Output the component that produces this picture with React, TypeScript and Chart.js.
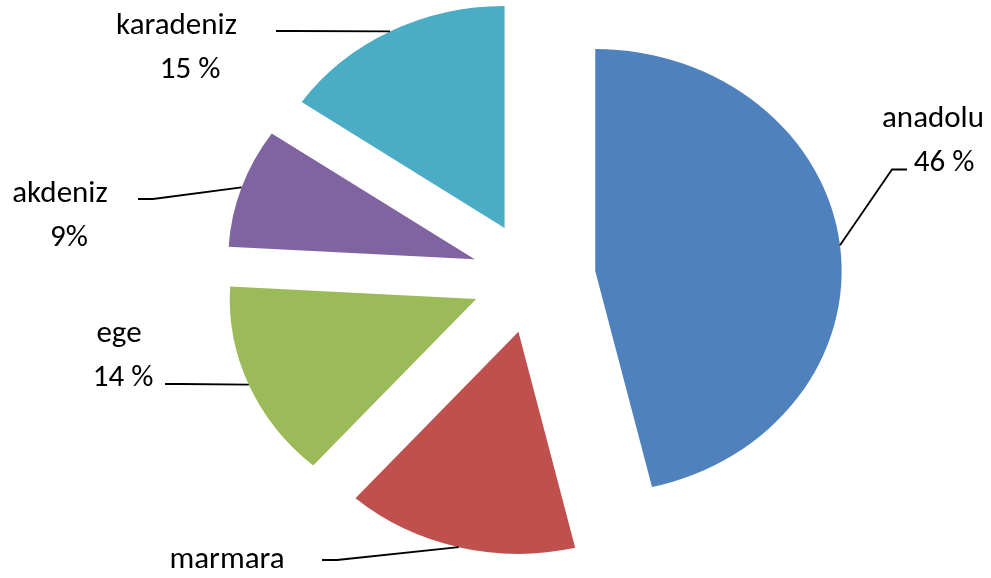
import React, { useEffect, useRef } from "react";
import { Chart, registerables } from "chart.js";

Chart.register(...registerables);

// ---- data ----
const CATEGORIES = ["anadolu", "marmara", "ege", "akdeniz", "karadeniz"];
const VALUES = [46.3, 15.2, 14.4, 8.7, 15.4];
const PCT_LABELS = ["46 %", "15 %", "14 %", "9%", "15 %"];
const COLORS = ["#4F81BD", "#C0504D", "#9BBB59", "#8064A2", "#4BACC6"];

// ---- layout / style ----
const W = 991;
const H = 578;
const RADIUS = 222;
const EXPLODE = 56;
const STRETCH_X = 1.11;
const FONT = "31px Calibri, Carlito, Lato, sans-serif";
const LINE_GAP = 44;
const LEADER_FLAT = 15;
// per label: name centre x, name baseline y, percent centre x, leader anchor x/y, side of the label
const LABEL_LAYOUT = [
  { nx: 933, ny: 127, px: 944, ax: 907, ay: 169.5, dir: -1 },
  { nx: 227, ny: 568, px: 227, ax: 322, ay: 560, dir: 1 },
  { nx: 119, ny: 342, px: 123, ax: 165, ay: 384, dir: 1 },
  { nx: 60, ny: 202, px: 69, ax: 138, ay: 199, dir: 1 },
  { nx: 176.5, ny: 34, px: 190, ax: 276, ay: 31, dir: 1 },
];

const explodePlugin = {
  id: "explodeStretch",
  beforeDatasetDraw(chart: any, args: any) {
    const ctx = chart.ctx;
    args.meta.data.forEach((arc: any) => {
      const { x, y, startAngle, endAngle } = arc.getProps(
        ["x", "y", "startAngle", "endAngle"],
        true
      );
      const mid = (startAngle + endAngle) / 2;
      ctx.save();
      ctx.translate(x, y);
      ctx.scale(STRETCH_X, 1);
      ctx.translate(-x, -y);
      ctx.translate(Math.cos(mid) * EXPLODE, Math.sin(mid) * EXPLODE);
      arc.draw(ctx);
      ctx.restore();
    });
    return false;
  },
};

const labelPlugin = {
  id: "pieLabels",
  afterDatasetsDraw(chart: any) {
    const ctx = chart.ctx;
    const meta = chart.getDatasetMeta(0);
    ctx.save();
    ctx.font = FONT;
    ctx.fillStyle = "#000";
    ctx.strokeStyle = "#000";
    ctx.lineWidth = 1.8;
    ctx.textAlign = "center";
    ctx.textBaseline = "alphabetic";
    meta.data.forEach((arc: any, i: number) => {
      const { x, y, startAngle, endAngle, outerRadius } = arc.getProps(
        ["x", "y", "startAngle", "endAngle", "outerRadius"],
        true
      );
      const mid = (startAngle + endAngle) / 2;
      const r = outerRadius + EXPLODE;
      const ex = x + STRETCH_X * Math.cos(mid) * r;
      const ey = y + Math.sin(mid) * r;
      const L = LABEL_LAYOUT[i];
      ctx.beginPath();
      ctx.moveTo(L.ax, L.ay);
      ctx.lineTo(L.ax + L.dir * LEADER_FLAT, L.ay);
      ctx.lineTo(ex, ey);
      ctx.stroke();
      ctx.fillText(CATEGORIES[i], L.nx, L.ny);
      ctx.fillText(PCT_LABELS[i], L.px, L.ny + LINE_GAP);
    });
    ctx.restore();
  },
};

export default function App() {
  const ref = useRef<HTMLCanvasElement | null>(null);
  useEffect(() => {
    if (!ref.current) return;
    const chart = new Chart(ref.current, {
      type: "pie",
      data: {
        labels: CATEGORIES,
        datasets: [
          {
            data: VALUES,
            backgroundColor: COLORS,
            borderWidth: 0,
            hoverOffset: 0,
          },
        ],
      },
      options: {
        animation: false,
        responsive: false,
        radius: RADIUS,
        layout: { padding: { left: 76, right: 0, top: 0, bottom: 23 } },
        events: [],
        plugins: {
          legend: { display: false },
          tooltip: { enabled: false },
        },
      } as any,
      plugins: [explodePlugin, labelPlugin],
    });
    return () => chart.destroy();
  }, []);
  return (
    <div style={{ position: "absolute", left: 0, top: 0, width: W, height: H, background: "#fff" }}>
      <canvas ref={ref} width={W} height={H} style={{ display: "block", width: W, height: H }} />
    </div>
  );
}
